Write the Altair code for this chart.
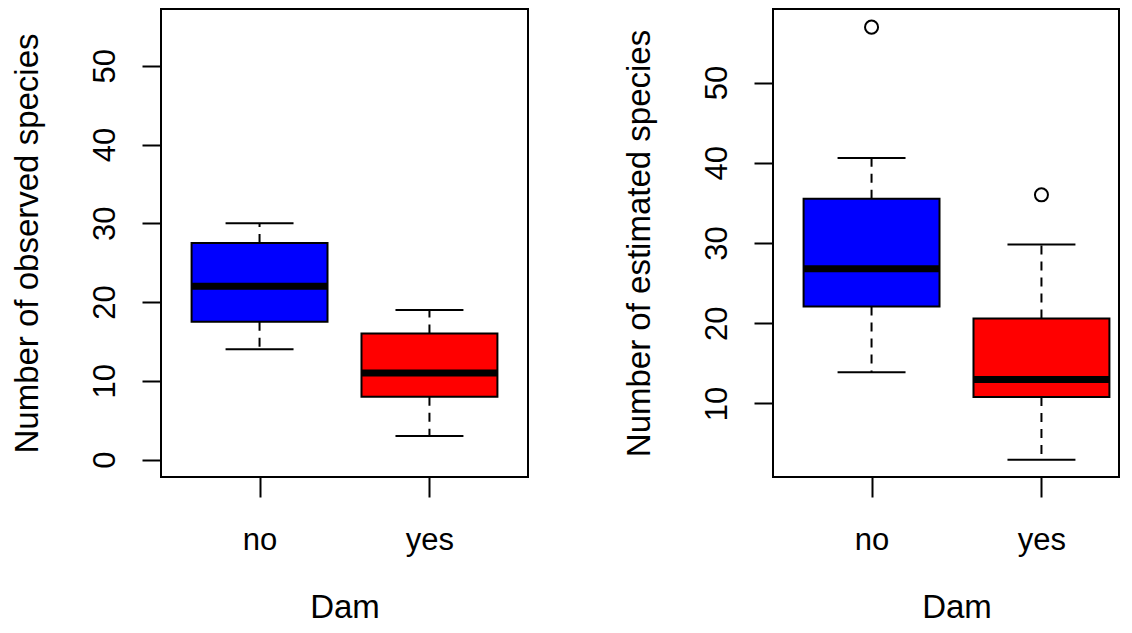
import json
import altair as alt
import pandas as pd

# ---- data ----
groups = ["no", "yes"]
positions = [1, 2]
box_colors = ["#0000FF", "#FF0000"]

obs_low = [14, 3]
obs_q1 = [17.5, 8]
obs_median = [22, 11]
obs_q3 = [27.5, 16]
obs_high = [30, 19]

est_low = [13.9, 3]
est_q1 = [22.1, 10.8]
est_median = [26.8, 13.0]
est_q3 = [35.5, 20.6]
est_high = [40.6, 29.8]

est_outlier_group = ["no", "yes"]
est_outlier_value = [56.9, 36.0]

obs_ticks = [0, 10, 20, 30, 40, 50]
est_ticks = [10, 20, 30, 40, 50]

FONT = "Liberation Sans"
LFS = 31   # tick label size
TFS = 33   # axis title size
H = 468
UNIT = 367 / 2.16  # pixels per x unit


def stats_frame(low, q1, med, q3, high):
    return pd.DataFrame({"group": groups, "pos": positions, "low": low, "q1": q1,
                         "median": med, "q3": q3, "high": high})


def panel(stats, outliers, ytitle, ydomain, yticks, width):
    xdomain = [0.42, 0.42 + width / UNIT]
    xscale = alt.Scale(domain=xdomain, nice=False, zero=False)
    yscale = alt.Scale(domain=ydomain, nice=False, zero=False)
    xaxis = alt.Axis(values=positions, labelExpr=f"{json.dumps(groups)}[datum.value - 1]",
                     title="Dam", domain=False, grid=False, tickSize=20, tickWidth=2,
                     tickColor="black", labelFont=FONT, labelFontSize=LFS, labelColor="black",
                     labelBaseline="alphabetic", labelPadding=52, labelFlush=False,
                     labelOverlap=False, titleFont=FONT, titleFontSize=TFS,
                     titleFontWeight="normal", titleColor="black", titleBaseline="alphabetic",
                     titleX=(1.5 - xdomain[0]) * UNIT, titleY=140)
    yaxis = alt.Axis(values=yticks, title=ytitle, domain=False, grid=False, tickSize=19,
                     tickWidth=2, tickColor="black", labelFont=FONT, labelFontSize=LFS,
                     labelColor="black", labelAngle=270, labelAlign="center",
                     labelBaseline="alphabetic", labelPadding=28, labelFlush=False,
                     labelOverlap=False, titleFont=FONT, titleFontSize=TFS,
                     titleFontWeight="normal", titleColor="black", titleAngle=270,
                     titleAlign="center", titleBaseline="alphabetic", titleX=-124, titleY=H / 2)

    def X(f):
        return alt.X(f"{f}:Q", scale=xscale, axis=xaxis)

    def Y(f):
        return alt.Y(f"{f}:Q", scale=yscale, axis=yaxis)

    base = alt.Chart(stats).transform_calculate(
        box_l="datum.pos - 0.4", box_r="datum.pos + 0.4",
        cap_l="datum.pos - 0.2", cap_r="datum.pos + 0.2")

    dash = dict(color="black", strokeWidth=2, strokeDash=[9, 7])
    whisk_lo = base.mark_rule(**dash).encode(x=X("pos"), y=Y("q1"), y2=alt.Y2("low"))
    whisk_hi = base.mark_rule(**dash).encode(x=X("pos"), y=Y("q3"), y2=alt.Y2("high"))
    cap_lo = base.mark_rule(color="black", strokeWidth=2).encode(
        x=X("cap_l"), x2=alt.X2("cap_r"), y=Y("low"))
    cap_hi = base.mark_rule(color="black", strokeWidth=2).encode(
        x=X("cap_l"), x2=alt.X2("cap_r"), y=Y("high"))
    box = base.mark_rect(stroke="black", strokeWidth=2, opacity=1).encode(
        x=X("box_l"), x2=alt.X2("box_r"), y=Y("q1"), y2=alt.Y2("q3"),
        color=alt.Color("group:N", scale=alt.Scale(domain=groups, range=box_colors), legend=None))
    med = base.mark_rule(color="black", strokeWidth=7).encode(
        x=X("box_l"), x2=alt.X2("box_r"), y=Y("median"))
    layers = [whisk_lo, whisk_hi, cap_lo, cap_hi, box, med]
    if outliers is not None:
        pts = alt.Chart(outliers).mark_point(shape="circle", filled=False, color="black",
                                             size=170, strokeWidth=2, opacity=1).encode(
            x=X("pos"), y=Y("value"))
        layers.append(pts)
    return alt.layer(*layers).properties(width=width, height=H)


obs = stats_frame(obs_low, obs_q1, obs_median, obs_q3, obs_high)
est = stats_frame(est_low, est_q1, est_median, est_q3, est_high)
est_out = pd.DataFrame({"group": est_outlier_group,
                        "pos": [positions[groups.index(g)] for g in est_outlier_group],
                        "value": est_outlier_value})

left = panel(obs, None, "Number of observed species", [-2.2, 57.2], obs_ticks, 367)
right = panel(est, est_out, "Number of estimated species", [0.84, 59.16], est_ticks, 346)

chart = alt.hconcat(left, right, spacing=245, bounds="flush").configure_view(
    stroke="black", strokeWidth=2
).properties(padding={"left": 1, "top": 0, "right": 0, "bottom": 0}, background="white")

chart.save("out.html", embed_options={"renderer": "svg", "actions": False})
